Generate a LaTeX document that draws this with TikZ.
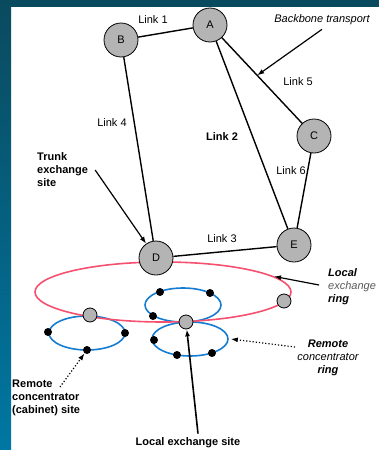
\documentclass[tikz,border=0pt]{standalone}
\usepackage{fontspec}
\setmainfont{Liberation Sans}
\usepackage{tikz}
\usetikzlibrary{arrows.meta,shapes.geometric}
\definecolor{bandtop}{RGB}{10,74,94}
\definecolor{bandbot}{RGB}{0,119,163}
\definecolor{ringred}{RGB}{245,80,112}
\definecolor{ringblue}{RGB}{22,124,210}
\definecolor{nodegray}{RGB}{180,180,180}

\begin{document}
\begin{tikzpicture}[
      x=1pt,y=-1pt,>={Latex[length=7pt,width=5pt]},
      font=\fontsize{11}{13}\selectfont,
      site/.style={circle,draw,line width=0.8pt,fill=nodegray,minimum size=34pt,inner sep=0pt},
      hub/.style={circle,draw,line width=0.8pt,fill=nodegray,minimum size=14pt,inner sep=0pt},
      cpe/.style={circle,fill=black,minimum size=8pt,inner sep=0pt},
      ring/.style={ellipse,draw,line width=1.6pt,inner sep=0pt},
      link/.style={line width=1.4pt},
      lbl/.style={inner sep=4pt,align=left},
      pointer/.style={line width=1.2pt,->}]
    \useasboundingbox (0,0) rectangle (379,450);
    \fill[bandtop] (0,0) rectangle (379,7);
    \shade[top color=bandtop,bottom color=bandbot] (0,0) rectangle (11,450);
    % concentrator rings
    \node[ring,draw=ringblue,minimum width=76pt,minimum height=34pt] (RL) at (87,333) {};
    \node[ring,draw=ringblue,minimum width=76pt,minimum height=34pt] (RU) at (183,305) {};
    \node[ring,draw=ringblue,minimum width=76pt,minimum height=34pt] (RR) at (190,339) {};
    % local exchange ring
    \node[ring,draw=ringred,minimum width=256pt,minimum height=60pt] (LXR) at (163,292) {};
    % backbone sites
    \node[site] (A) at (210,25) {A};
    \node[site] (B) at (121,40) {B};
    \node[site] (C) at (314,136) {C};
    \node[site] (D) at (156,258) {D};
    \node[site] (E) at (294,245) {E};
    \node[hub] (H1) at (90,315) {};
    \node[hub] (H2) at (186,322) {};
    \node[hub] (H3) at (284,301) {};
    \foreach \n/\x/\y in {1/48/332,2/125/333,3/87/350,4/160/292,5/210/293,6/153/316,7/154/340,8/177/355,9/212/353}
      \node[cpe] (P\n) at (\x,\y) {};
    % links
    \draw[link] (B) -- (A);
    \draw[link] (A) -- (E);
    \draw[link] (D) -- (E);
    \draw[link] (B) -- (D);
    \draw[link] (A) -- (C) coordinate[pos=0.44] (bbt);
    \draw[link] (C) -- (E);
    \node at (153,20) {Link 1};
    \node[font=\fontsize{11}{13}\selectfont\bfseries] at (222,137) {Link 2};
    \node at (222,239) {Link 3};
    \node at (112,123) {Link 4};
    \node at (298,82) {Link 5};
    \node at (291,171) {Link 6};
    % labels
    \node[lbl,font=\fontsize{11}{13}\selectfont\itshape] (bbl) at (322,20) {Backbone transport};
    \node[lbl,anchor=west,font=\fontsize{11}{13}\selectfont\bfseries] (trunk) at (33,170) {Trunk\\exchange\\site};
    \node[lbl,anchor=west,font=\fontsize{11}{13}\selectfont\itshape] (lxl) at (324,287)
      {\textbf{Local}\\\textcolor{black!65}{exchange}\\\textbf{ring}};
    \node[lbl,align=center,font=\fontsize{11}{13}\selectfont\itshape] (rcl) at (328,358)
      {\textbf{Remote}\\concentrator\\\textbf{ring}};
    \node[lbl,anchor=west,font=\fontsize{11}{13}\selectfont\bfseries] (cab) at (8,398) {Remote\\concentrator\\(cabinet) site};
    \node[lbl,font=\fontsize{11}{13}\selectfont\bfseries] (lxs) at (188,443) {Local exchange site};
    \coordinate (cabtip) at (60,387);
    \coordinate (rcltip) at (295,347);
    \coordinate (lxltip) at (319,285);
    % pointers
    \draw[pointer] (bbl.south) -- (bbt);
    \draw[pointer] ([xshift=3pt]trunk.east) -- (D);
    \draw[pointer] (lxltip) -- (LXR.8);
    \draw[pointer,dotted] (rcltip) -- ([xshift=2pt]RR.east);
    \draw[pointer,dotted] (cabtip) -- (P3);
    \draw[pointer,line width=1.6pt] ([xshift=10pt]lxs.north) -- (H2);
  \end{tikzpicture}
\end{document}
